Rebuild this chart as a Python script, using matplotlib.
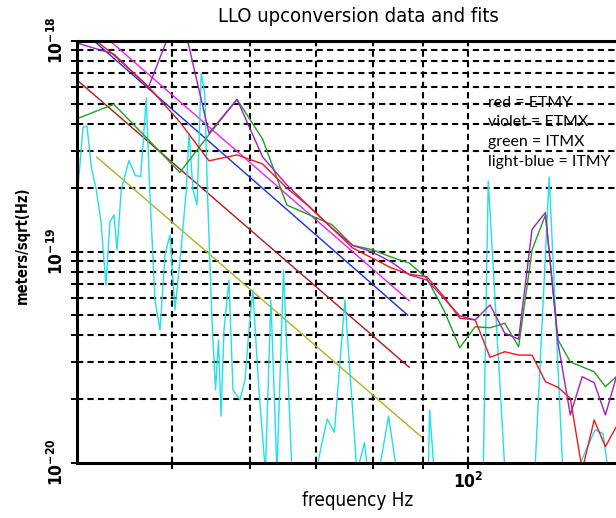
import numpy as np
import matplotlib
matplotlib.use('Agg')
import matplotlib.pyplot as plt

# frequency grid of the measured spectra (Hz)
freq = [40.0, 43.6, 47.3, 50.9, 54.5, 58.2, 61.8, 65.4, 69.0, 72.7,
        76.3, 79.9, 83.6, 87.2, 90.8, 94.5, 98.1, 101.7, 105.3, 109.0,
        112.6, 116.2, 119.9, 123.5, 127.1, 130.7, 134.4, 138.0, 141.6]

# amplitudes in units of 1e-20 m/sqrt(Hz)
etmy = [118.4, 85.4, 60.3, 41.1, 26.9, 28.7, 26.0, 20.0, 16.25, 12.9,
        10.4, 9.3, 8.35, 7.80, 7.60, 6.11, 4.83, 4.74, 3.15, 3.35,
        3.23, 3.23, 2.415, 2.27, 2.015, 0.92, 1.59, 1.19, 1.48]
etmx = [97.3, 86.3, 60.2, 144.0, 36.4, 52.6, 28.05, 20.7, 16.25, 12.9,
        10.7, 9.95, 8.9, 7.74, 7.33, 6.00, 4.95, 4.74, 5.58, 4.10,
        3.84, 12.74, 15.3, 3.67, 1.68, 2.55, 2.39, 1.68, 2.55]
itmx = [42.6, 49.85, 33.8, 23.7, 35.8, 52.6, 34.1, 16.6, 14.9, 13.4,
        10.7, 10.2, 9.4, 8.8, 7.46, 5.28, 3.50, 4.40, 4.35, 4.57,
        3.54, 10.16, 14.9, 3.81, 3.00, 2.84, 2.69, 2.29, 2.55]

# ITMY (light blue), own frequency points
itmy_f = [40.00, 40.57, 40.95, 41.36, 41.85, 42.31, 42.81, 43.21, 43.62, 43.93,
          44.37, 45.18, 45.85, 46.44, 47.05, 47.43, 48.02, 48.59, 49.16, 49.74,
          50.32, 51.04, 51.68, 52.00, 52.50, 52.99, 53.52, 53.96, 54.29, 54.88,
          55.34, 55.73, 56.06, 56.45, 57.11, 57.65, 58.60, 59.30, 59.85, 60.40,
          61.26, 62.20, 63.01, 63.91, 64.90, 66.20, 70.01, 71.89, 73.12, 74.95,
          77.08, 78.45, 79.08, 81.15, 83.02, 84.64, 91.11, 91.42, 92.38, 103.64,
          104.86, 109.05, 116.97, 120.96, 124.90, 128.90, 134.70, 137.23, 138.95, 141.40]
itmy = [17.54, 38.9, 39.3, 25.15, 19.56, 13.87, 6.94, 13.87, 14.89, 10.16,
        19.56, 27.0, 22.92, 22.67, 53.4, 19.56, 5.89, 4.25, 9.63, 11.97,
        5.28, 10.16, 19.56, 36.4, 19.56, 16.61, 70.2, 56.4, 19.56, 4.74,
        2.21, 3.81, 1.66, 4.25, 7.33, 2.21, 1.98, 2.46, 4.25, 6.57,
        2.21, 0.9, 5.89, 0.9, 8.17, 0.9, 0.9, 1.61, 1.39, 5.89,
        0.9, 1.24, 0.9, 0.9, 1.66, 0.9, 0.9, 1.77, 0.9, 0.9,
        21.6, 0.9, 0.9, 22.55, 0.9, 0.9, 1.43, 1.37, 0.9, 0.9]

# power-law fits (endpoints)
fit_blue_f, fit_blue = [40.0, 86.8], [117.0, 5.0]
fit_mag_f, fit_mag = [40.0, 87.1], [136.0, 5.85]
fit_dred_f, fit_dred = [40.0, 87.1], [65.0, 2.83]
fit_olive_f, fit_olive = [41.9, 89.7], [28.0, 1.32]

cond = dict(family='DejaVu Sans', fontstretch='condensed')

fig = plt.figure(figsize=(6.16, 5.18), dpi=100)
ax = fig.add_axes([77/616, 55.5/518, 564/616, 422/518])
ax.set_xscale('log')
ax.set_yscale('log')
ax.set_xlim(40, 150)
ax.set_ylim(1e-20, 1e-18)

u = 1e-20
ax.plot(fit_blue_f, np.array(fit_blue)*u, color='#1a2ee8', lw=1.0)
ax.plot(fit_mag_f, np.array(fit_mag)*u, color='#f020f0', lw=1.0)
ax.plot(fit_dred_f, np.array(fit_dred)*u, color='#b01818', lw=1.0)
ax.plot(fit_olive_f, np.array(fit_olive)*u, color='#b0b020', lw=1.0)
ax.plot(itmy_f, np.array(itmy)*u, color='#20e0e8', lw=1.0)
ax.plot(freq, np.array(itmx)*u, color='#20a020', lw=1.0)
ax.plot(freq, np.array(etmx)*u, color='#a020c0', lw=1.0)
ax.plot(freq, np.array(etmy)*u, color='#f01818', lw=1.0)

# dashed grid
for f in [50, 60, 70, 80, 90, 100]:
    ax.axvline(f, color='black', lw=1.5, ls=(0, (3, 2)), zorder=0.5)
for d in [1e-20, 1e-19]:
    for m in [2, 3, 4, 5, 6, 7, 8, 9]:
        ax.axhline(m*d, color='black', lw=1.5, ls=(0, (3, 2)), zorder=0.5)
ax.axhline(1e-19, color='black', lw=1.5, ls=(0, (3, 2)), zorder=0.5)

ax.spines['right'].set_visible(False)
for s in ['left', 'bottom', 'top']:
    ax.spines[s].set_linewidth(2.2)

ax.set_xticks([100])
ax.set_xticklabels([r'$\mathregular{10^{2}}$'], fontsize=12.5, fontweight='bold', **cond)
ax.set_xticks([50, 60, 70, 80, 90], minor=True)
ax.set_xticklabels([], minor=True)
ax.set_yticks([1e-20, 1e-19, 1e-18])
ax.set_yticklabels([r'$\mathregular{10^{-20}}$', r'$\mathregular{10^{-19}}$',
                    r'$\mathregular{10^{-18}}$'], rotation=90, va='center',
                   fontsize=12.5, fontweight='bold', **cond)
ax.set_yticks([m*d for d in [1e-20, 1e-19] for m in range(2, 10)], minor=True)
ax.set_yticklabels([], minor=True)
ax.tick_params(which='both', direction='out', length=4, width=1.4, pad=3)

fig.text(358/616, 1 - 16/518, 'LLO upconversion data and fits', ha='center',
         va='center', fontsize=14.5, **cond)
fig.text(358/616, 1 - 500/518, 'frequency Hz', ha='center', va='center',
         fontsize=13.5, **cond)
fig.text(22/616, 1 - 245/518, 'meters/sqrt(Hz)', ha='center', va='center',
         rotation=90, fontsize=10.5, fontweight='bold', **cond)

legend_lines = ['red = ETMY', 'violet = ETMX', 'green = ITMX', 'light-blue = ITMY']
for i, t in enumerate(legend_lines):
    fig.text(488/616, 1 - (102.7 + 19.7*i)/518, t, ha='left', va='center',
             fontsize=11.4, family='Lato')

fig.savefig('out.png', dpi=100)
